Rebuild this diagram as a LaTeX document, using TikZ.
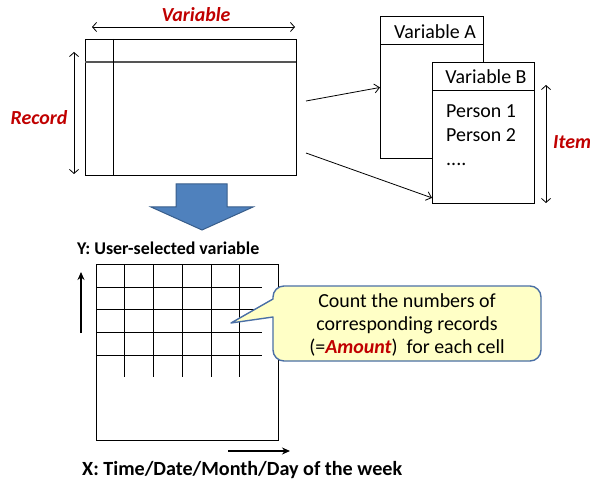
\documentclass[tikz,border=0pt]{standalone}
\usepackage{fontspec}
\setmainfont{Carlito}
\usetikzlibrary{arrows.meta,calc}
\definecolor{accent}{HTML}{C00000}
\definecolor{arrowfill}{HTML}{4F81BD}
\definecolor{arrowline}{HTML}{385D8A}
\definecolor{notefill}{HTML}{FFFFC6}
\definecolor{noteline}{HTML}{4A6FA5}
\definecolor{rule}{HTML}{555555}
\begin{document}
\begin{tikzpicture}[x=1bp,y=-1bp,
  box/.style={draw, line width=0.9bp, inner sep=0pt, anchor=north west},
  txt/.style={font=\fontsize{20}{23}\selectfont, inner sep=0pt},
  redlbl/.style={text=accent, font=\fontsize{20}{23}\selectfont\bfseries\itshape, inner sep=0pt},
  axislbl/.style={font=\fontsize{18}{21}\selectfont\bfseries, inner sep=0pt},
  dim/.style={{Straight Barb[length=4bp,width=9bp]}-{Straight Barb[length=4bp,width=9bp]}, line width=0.8bp},
  link/.style={-{Straight Barb[length=5bp,width=9bp]}, line width=0.8bp},
  axis/.style={-{Stealth[length=8bp,width=7bp]}, line width=1.8bp},
  gridline/.style={line width=0.9bp},
  note/.style={draw=noteline, fill=notefill, line width=1.4bp, line join=round},
]
\useasboundingbox (0,0) rectangle (590,485);

% ---- record table ----
\node[box, minimum width=211bp, minimum height=136bp] (tbl) at (85,39) {};
\draw[rule, line width=1.1bp] (85,62) -- (296,62);
\draw[line width=0.9bp] (113,39) -- (113,175);

\coordinate (varL) at (92,27);
\coordinate (varR) at (295,27);
\draw[dim] (varL) -- (varR);
\node[redlbl, anchor=base] (varlbl) at (196,22) {Variable};

\coordinate (recT) at (74,52);
\coordinate (recB) at (74,174);
\draw[dim] (recT) -- (recB);
\node[redlbl, anchor=base] (reclbl) at (39,125) {Record};

% ---- variable cards ----
\node[box, minimum width=103bp, minimum height=142bp] (cardA) at (380,16) {};
\draw[line width=0.9bp] (380,44) -- (483,44);
\node[txt, anchor=base] (cardAhead) at (435,39) {Variable A};

\node[box, fill=white, minimum width=102bp, minimum height=141bp] (cardB) at (432,62) {};
\draw[line width=0.9bp] (432,90) -- (534,90);
\node[txt, anchor=base] (cardBhead) at (486,84) {Variable B};
\node[txt, anchor=base west] (p1) at (446,118) {Person 1};
\node[txt, anchor=base west] (p2) at (446,142) {Person 2};
\node[txt, anchor=base west] (pdots) at (446,166) {....};

\coordinate (itemT) at (546,85);
\coordinate (itemB) at (546,203);
\draw[dim] (itemT) -- (itemB);
\node[redlbl, anchor=base west] (itemlbl) at (553,149) {Item};

% ---- links from table to cards ----
\coordinate (out1) at (306,101);
\coordinate (out2) at (306,153);
\draw[link] (out1) -- (cardA.west);
\draw[link] (out2) -- ($(cardB.south west)+(0,-6)$);

% ---- block arrow ----
\draw[fill=arrowfill, draw=arrowline, line width=1bp, line join=miter]
  (176,184) -- (227,184) -- (227,207) -- (253,207) -- (202,230)
  -- (151,207) -- (176,207) -- cycle;

% ---- aggregation grid ----
\node[axislbl, anchor=base west] (ylbl) at (77,254) {Y: User-selected variable};
\node[box, minimum width=182bp, minimum height=176bp] (grid) at (96,264) {};
\foreach \y in {287,309,332,355}
  \draw[gridline] (96,\y) -- (262,\y);
\foreach \x in {124,153,182,211,239}
  \draw[gridline] (\x,264) -- (\x,377);

\coordinate (yA) at (81,333);
\coordinate (yB) at (81,272);
\draw[axis] (yA) -- (yB);
\coordinate (xA) at (228,451);
\coordinate (xB) at (290,451);
\draw[axis] (xA) -- (xB);
\node[axislbl, font=\fontsize{20.2}{24}\selectfont\bfseries, anchor=base west] (xlbl) at (82,475) {X: Time/Date/Month/Day of the week};

% ---- callout ----
\coordinate (tip) at (231,323);
\draw[note] (tip) -- (273,317) [rounded corners=11bp] -- (273,361) -- (541,361)
  -- (541,286) -- (273,286) [sharp corners] -- (273,299) -- cycle;
\node[txt, align=center, anchor=center] (notetext) at (407,325)
  {Count the numbers of\\corresponding records\\(={\color{accent}\bfseries\itshape Amount})\ \ for each cell};
\end{tikzpicture}
\end{document}
